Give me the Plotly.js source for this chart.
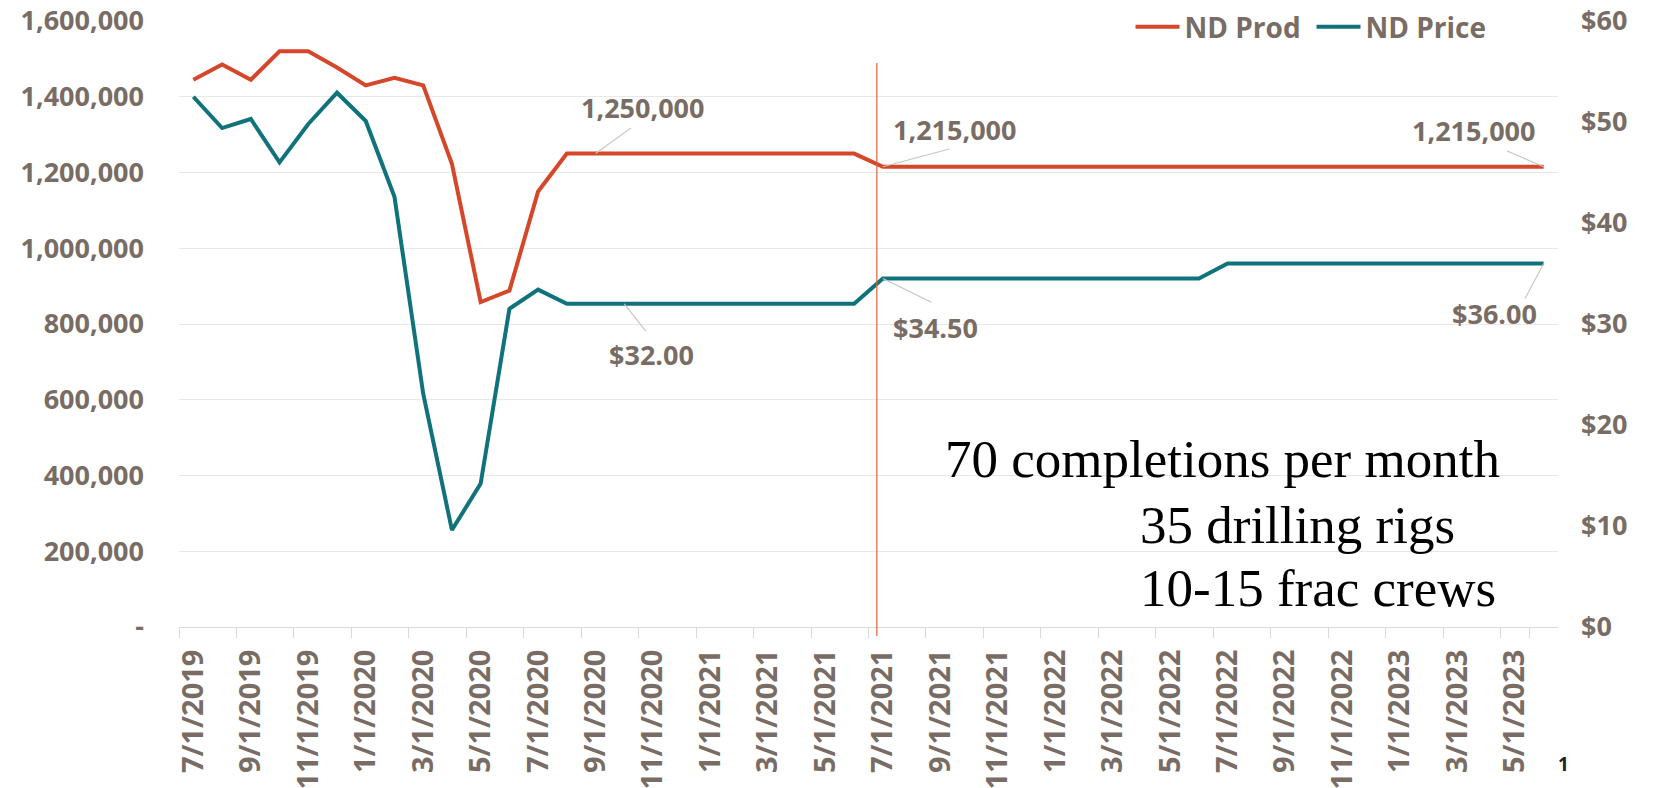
<!DOCTYPE html>
<html>
<head>
<meta charset="utf-8">
<script src="https://cdn.plot.ly/plotly-3.0.1.min.js"></script>
<style>
  html, body { margin: 0; padding: 0; background: #ffffff; }
  #chart { width: 1655px; height: 788px; }
</style>
</head>
<body>
<div id="chart"></div>
<script>
// ---- data ----
const months = [
  "7/1/2019","8/1/2019","9/1/2019","10/1/2019","11/1/2019","12/1/2019",
  "1/1/2020","2/1/2020","3/1/2020","4/1/2020","5/1/2020","6/1/2020",
  "7/1/2020","8/1/2020","9/1/2020","10/1/2020","11/1/2020","12/1/2020",
  "1/1/2021","2/1/2021","3/1/2021","4/1/2021","5/1/2021","6/1/2021",
  "7/1/2021","8/1/2021","9/1/2021","10/1/2021","11/1/2021","12/1/2021",
  "1/1/2022","2/1/2022","3/1/2022","4/1/2022","5/1/2022","6/1/2022",
  "7/1/2022","8/1/2022","9/1/2022","10/1/2022","11/1/2022","12/1/2022",
  "1/1/2023","2/1/2023","3/1/2023","4/1/2023","5/1/2023","6/1/2023"
];

const ndProd = [
  1445000, 1485000, 1445000, 1520000, 1520000, 1477000,
  1430000, 1450000, 1430000, 1223000, 858000, 888000,
  1150000, 1250000, 1250000, 1250000, 1250000, 1250000,
  1250000, 1250000, 1250000, 1250000, 1250000, 1250000,
  1215000, 1215000, 1215000, 1215000, 1215000, 1215000,
  1215000, 1215000, 1215000, 1215000, 1215000, 1215000,
  1215000, 1215000, 1215000, 1215000, 1215000, 1215000,
  1215000, 1215000, 1215000, 1215000, 1215000, 1215000
];

const ndPrice = [
  52.5, 49.4, 50.3, 46.0, 49.8, 52.9,
  50.1, 42.6, 23.1, 9.6, 14.2, 31.5,
  33.4, 32.0, 32.0, 32.0, 32.0, 32.0,
  32.0, 32.0, 32.0, 32.0, 32.0, 32.0,
  34.5, 34.5, 34.5, 34.5, 34.5, 34.5,
  34.5, 34.5, 34.5, 34.5, 34.5, 34.5,
  36.0, 36.0, 36.0, 36.0, 36.0, 36.0,
  36.0, 36.0, 36.0, 36.0, 36.0, 36.0
];

const xTickLabels = [
  "7/1/2019","9/1/2019","11/1/2019","1/1/2020","3/1/2020","5/1/2020",
  "7/1/2020","9/1/2020","11/1/2020","1/1/2021","3/1/2021","5/1/2021",
  "7/1/2021","9/1/2021","11/1/2021","1/1/2022","3/1/2022","5/1/2022",
  "7/1/2022","9/1/2022","11/1/2022","1/1/2023","3/1/2023","5/1/2023"
];

const prodTickVals = [0, 200000, 400000, 600000, 800000, 1000000, 1200000, 1400000, 1600000];
const prodTickText = ["-", "200,000", "400,000", "600,000", "800,000", "1,000,000", "1,200,000", "1,400,000", "1,600,000"];
const priceTickVals = [0, 10, 20, 30, 40, 50, 60];
const priceTickText = ["$0", "$10", "$20", "$30", "$40", "$50", "$60"];

// categories that carry a data label
const prodLabelAt = ["9/1/2020", "7/1/2021", "6/1/2023"];
const priceLabelAt = ["10/1/2020", "7/1/2021", "6/1/2023"];

const noteLines = ["70 completions per month", "35 drilling rigs", "10-15 frac crews"];

// ---- layout of the labels (pixel offsets: text centre, leader end) ----
const prodLabelPos = [
  { tx: 47, ty: -46, lx: 36, ly: -26 },
  { tx: 72, ty: -37, lx: 67, ly: -18 },
  { tx: -70, ty: -36, lx: -37, ly: -16 }
];
const priceLabelPos = [
  { tx: 27, ty: 51, lx: 22, ly: 28 },
  { tx: 53, ty: 49, lx: 49, ly: 24 },
  { tx: -49, ty: 50, lx: -19, ly: 36 }
];

// ---- styles ----
const RED = "#D5472A";
const TEAL = "#10727B";
const LBL = "#786C64";
const LEADER = "#c4c4c4";
const FONT = "Open Sans, Noto Sans, sans-serif";
const W = 700;

const traces = [
  {
    x: months, y: ndProd, name: "ND Prod", type: "scatter", mode: "lines",
    line: { color: RED, width: 4 }, yaxis: "y"
  },
  {
    x: months, y: ndPrice, name: "ND Price", type: "scatter", mode: "lines",
    line: { color: TEAL, width: 4 }, yaxis: "y2"
  }
];

const annotations = [];
function addLabel(cat, value, text, yref, pos) {
  // leader line
  annotations.push({
    x: cat, y: value, xref: "x", yref: yref, text: " ",
    showarrow: true, arrowhead: 0, arrowwidth: 1.1, arrowcolor: LEADER,
    ax: pos.lx, ay: pos.ly, standoff: 0,
    font: { size: 1 }, borderpad: 0
  });
  // label text
  annotations.push({
    x: cat, y: value, xref: "x", yref: yref, text: text,
    showarrow: true, arrowhead: 0, arrowwidth: 0.1, arrowcolor: "rgba(0,0,0,0)",
    ax: pos.tx, ay: pos.ty, standoff: 0,
    font: { family: FONT, size: 27, color: LBL, weight: W }
  });
}
prodLabelAt.forEach((c, i) => {
  const v = ndProd[months.indexOf(c)];
  addLabel(c, v, v.toLocaleString("en-US"), "y", prodLabelPos[i]);
});
priceLabelAt.forEach((c, i) => {
  const v = ndPrice[months.indexOf(c)];
  addLabel(c, v, "$" + v.toFixed(2), "y2", priceLabelPos[i]);
});

const notePos = [
  { x: 0.554, y: 0.2773 },
  { x: 0.6954, y: 0.1683 },
  { x: 0.6954, y: 0.0644 }
];
noteLines.forEach((t, i) => {
  annotations.push({
    x: notePos[i].x, y: notePos[i].y, xref: "paper", yref: "paper",
    xanchor: "left", yanchor: "middle", showarrow: false, text: t,
    font: { family: "Liberation Serif, Times New Roman, serif", size: 53, color: "#000000" }
  });
});
annotations.push({
  x: (1571 - 179) / 1379, y: (627 - 779) / 606, xref: "paper", yref: "paper",
  showarrow: false, text: "1",
  font: { family: FONT, size: 19, color: "#222222", weight: 700 }
});

const layout = {
  width: 1655, height: 788,
  margin: { l: 179, r: 97, t: 21, b: 161, autoexpand: false },
  paper_bgcolor: "#ffffff", plot_bgcolor: "#ffffff",
  showlegend: true,
  legend: {
    orientation: "h", x: 0.69, xanchor: "left",
    yref: "container", y: 1 - 27 / 788, yanchor: "middle",
    bgcolor: "rgba(0,0,0,0)",
    font: { family: FONT, size: 28, color: LBL, weight: W },
    traceorder: "normal", itemwidth: 44,
    entrywidth: 122, entrywidthmode: "pixels"
  },
  xaxis: {
    type: "category",
    categoryorder: "array", categoryarray: months,
    range: [-0.5, months.length - 0.5],
    tickmode: "array", tickvals: xTickLabels, ticktext: xTickLabels,
    tickson: "boundaries",
    ticks: "outside", ticklen: 10, tickcolor: "#d9d9d9", tickwidth: 1,
    tickangle: -90,
    ticklabelstandoff: 10,
    showgrid: false, zeroline: false,
    showline: true, linecolor: "#d9d9d9", linewidth: 1,
    tickfont: { family: FONT, size: 29, color: LBL, weight: W },
    automargin: false, fixedrange: true
  },
  yaxis: {
    range: [0, 1600000],
    tickmode: "array", tickvals: prodTickVals, ticktext: prodTickText,
    showgrid: true, gridcolor: "#e8e8e8", gridwidth: 1,
    zeroline: false, showline: false, ticks: "",
    ticklabelstandoff: 34,
    tickfont: { family: FONT, size: 27, color: LBL, weight: W },
    automargin: false, fixedrange: true
  },
  yaxis2: {
    range: [0, 60], overlaying: "y", side: "right",
    tickmode: "array", tickvals: priceTickVals, ticktext: priceTickText,
    showgrid: false, zeroline: false, showline: false, ticks: "",
    ticklabelstandoff: 22,
    tickfont: { family: FONT, size: 27, color: LBL, weight: W },
    automargin: false, fixedrange: true
  },
  shapes: [
    {
      type: "line", xref: "x", yref: "paper",
      x0: 23.79, x1: 23.79, y0: -0.015, y1: 0.9307,
      line: { color: "#E0603F", width: 1.2 }
    }
  ],
  annotations: annotations
};

Plotly.newPlot("chart", traces, layout, { displayModeBar: false, staticPlot: true });
</script>
</body>
</html>
